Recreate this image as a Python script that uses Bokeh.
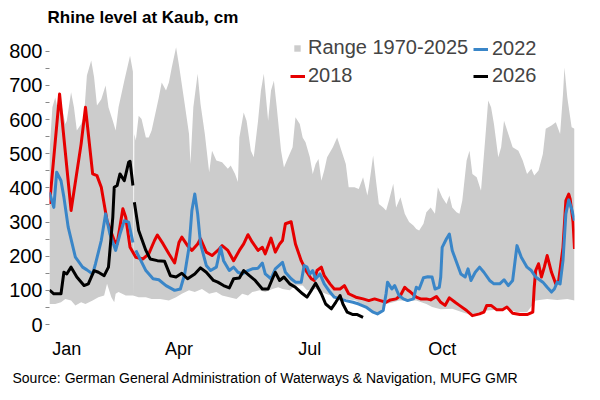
import numpy as np
from bokeh.plotting import figure
from bokeh.models import FixedTicker, Legend, LegendItem, Title, Range1d
from bokeh.embed import file_html
from bokeh.resources import INLINE

FONT = "Liberation Sans"

# day of year (0 = 1 Jan) and water level in cm
red_day = [0, 1, 7, 15, 22, 25, 30, 33, 36, 40, 45, 47, 51, 53, 56, 60, 65, 69, 73, 75, 79, 83, 87, 90,
           92, 96, 99, 103, 105, 109, 113, 118, 120, 124, 128, 132, 135, 138, 141, 145, 148, 150, 154,
           157, 160, 162, 164, 168, 171, 175, 179, 182, 184, 186, 189, 191, 195, 198, 202, 205, 208,
           213, 218, 222, 226, 230, 234, 237, 241, 244, 247, 249, 251, 255, 258, 262, 265, 269, 272,
           275, 278, 282, 285, 290, 294, 299, 302, 304, 307, 311, 315, 318, 322, 327, 332, 336, 337,
           338, 340, 342, 344, 346, 349, 352, 354, 357, 359, 361, 362, 364, 365]
red_cm = [353, 397, 675, 334, 529, 636, 441, 436, 402, 304, 246, 236, 339, 314, 226, 197, 192, 207, 246,
          262, 236, 207, 180, 240, 256, 231, 217, 236, 251, 212, 202, 221, 231, 217, 187, 217, 236, 263,
          241, 217, 226, 207, 253, 212, 236, 246, 295, 301, 236, 187, 153, 134, 129, 158, 168, 143, 119,
          104, 104, 114, 90, 80, 75, 70, 75, 70, 65, 72, 75, 85, 109, 101, 95, 80, 75, 75, 72, 82, 65,
          56, 78, 65, 56, 41, 26, 31, 36, 56, 56, 43, 43, 51, 33, 29, 29, 36, 109, 158, 178, 139, 168,
          202, 153, 119, 129, 226, 363, 382, 367, 300, 221]

blue_day = [0, 3, 5, 8, 10, 13, 18, 23, 26, 30, 32, 36, 39, 42, 46, 49, 52, 55, 58, 58.5, 60, 67, 72,
            76, 81, 87, 91, 94, 97, 99, 101, 103, 105, 109, 112, 116, 119, 121, 125, 128, 131, 134,
            138, 141, 145, 148, 150, 154, 157, 162, 164, 168, 171, 175, 177, 179, 181, 183, 185, 188,
            191, 195, 198, 202, 206, 211, 215, 220, 225, 228, 232, 234, 235, 238, 240, 243, 246, 249,
            253, 255, 257, 260, 263, 266, 268, 271, 272, 273, 276, 278, 280, 283, 286, 289, 291, 293,
            296, 299, 302, 306, 309, 313, 316, 319, 322, 325, 328, 332, 335, 338, 343, 346, 349, 351,
            353, 355, 357, 359, 361, 363, 365]
blue_cm = [387, 343, 446, 421, 373, 285, 197, 168, 160, 148, 178, 246, 324, 265, 217, 265, 304, 300,
           240, np.nan, 217, 158, 134, 131, 114, 100, 104, 148, 226, 334, 382, 324, 236, 173, 158, 168,
           226, 187, 158, 168, 153, 148, 158, 163, 165, 180, 148, 134, 163, 182, 153, 134, 124, 124,
           173, 168, 148, 158, 134, 148, 119, 95, 80, 75, 70, 65, 60, 51, 36, 31, 41, 90, 124, 104,
           114, 85, 75, 70, 75, 109, 104, 137, 140, 139, 104, 109, 139, 226, 251, 265, 217, 182, 148,
           139, 163, 129, 153, 168, 153, 129, 119, 119, 131, 114, 129, 231, 197, 168, 158, 139, 124,
           109, 95, 104, 124, 119, 187, 324, 365, 339, 304]

black_day = [0, 3, 8, 10, 12, 15, 19, 24, 27, 31, 34, 38, 41, 44, 45, 47, 49, 52, 55, 56, 58, 58.5, 59,
             62, 67, 70, 75, 80, 84, 88, 92, 96, 101, 105, 109, 114, 117, 121, 125, 128, 132, 135, 139,
             143, 148, 152, 155, 157, 160, 163, 167, 171, 176, 179, 182, 185, 189, 192, 196, 199, 202,
             204, 207, 211, 214, 218]
black_cm = [101, 90, 90, 153, 148, 168, 139, 114, 119, 158, 153, 143, 168, 314, 402, 407, 441, 421, 475,
            478, 407, np.nan, 358, 275, 217, 192, 187, 185, 143, 139, 150, 134, 148, 166, 153, 129, 124,
            114, 107, 134, 136, 158, 143, 129, 104, 104, 134, 153, 129, 139, 119, 109, 90, 80, 100, 121,
            90, 60, 46, 65, 85, 60, 36, 29, 29, 21]

range_hi_day = [0, 2, 4, 6, 8, 11, 12, 15, 17, 19, 22, 24, 26, 29, 31, 33, 36, 39, 41, 44, 46, 48, 52,
                56, 58, 58.5, 59, 60, 62, 64, 67, 69, 71, 74, 76, 78, 81, 83, 85, 88, 90, 94, 97, 98,
                100, 103, 105, 108, 111, 113, 116, 120, 124, 126, 129, 131, 132, 135, 137, 140, 142,
                145, 147, 149, 152, 154, 156, 158, 161, 163, 165, 169, 171, 174, 176, 178, 181, 183,
                185, 187, 189, 191, 193, 197, 200, 203, 206, 208, 212, 215, 218, 221, 222, 225, 227,
                229, 232, 234, 236, 239, 241, 244, 247, 250, 253, 255, 257, 260, 262, 265, 268, 270,
                273, 276, 278, 280, 283, 285, 287, 290, 292, 294, 297, 300, 303, 305, 307, 309, 312,
                314, 316, 319, 322, 326, 329, 332, 335, 337, 340, 343, 345, 349, 352, 355, 357, 358,
                360, 363, 365]
range_hi = [504, 636, 665, 626, 650, 587, 597, 680, 636, 568, 587, 611, 729, 773, 724, 641, 660, 700,
            636, 597, 568, 636, 714, 787, 740, 85, 558, 539, 611, 602, 548, 548, 568, 626, 665, 709,
            685, 709, 753, 812, 760, 646, 558, 470, 636, 734, 646, 558, 446, 509, 480, 475, 456, 466,
            441, 417, 548, 621, 597, 509, 490, 597, 685, 734, 597, 685, 714, 636, 509, 460, 480, 519,
            607, 587, 548, 534, 490, 441, 470, 485, 421, 451, 490, 519, 548, 509, 470, 402, 402, 397,
            431, 378, 402, 495, 421, 353, 343, 334, 363, 412, 343, 373, 324, 300, 290, 280, 275, 295,
            329, 343, 324, 402, 373, 353, 378, 343, 329, 324, 363, 480, 509, 441, 431, 392, 548, 656,
            636, 587, 490, 519, 597, 558, 519, 509, 480, 441, 456, 436, 451, 499, 573, 583, 592, 558,
            675, 753, 665, 578, 573]

range_lo_day = [0, 4, 8, 11, 15, 18, 22, 25, 30, 34, 38, 40, 43, 45, 46, 48, 53, 58, 62, 67, 71, 77, 83,
                88, 92, 97, 101, 106, 111, 116, 120, 125, 130, 134, 138, 141, 146, 150, 155, 159, 162,
                167, 171, 176, 179, 185, 192, 199, 206, 213, 220, 225, 228, 232, 234, 239, 243, 248,
                255, 262, 266, 272, 280, 287, 294, 299, 304, 311, 318, 325, 332, 338, 346, 353, 360, 365]
range_lo = [60, 60, 65, 75, 70, 56, 65, 60, 70, 80, 85, 119, 80, 65, 90, 95, 85, 85, 80, 80, 75, 75, 70,
            80, 90, 100, 95, 104, 90, 95, 85, 80, 75, 90, 85, 95, 100, 95, 104, 109, 104, 100, 114, 114,
            100, 104, 90, 80, 75, 70, 51, 36, 31, 41, 60, 65, 70, 70, 70, 60, 51, 45, 46, 36, 26, 31, 41,
            43, 46, 36, 36, 70, 75, 72, 75, 70]

month_tick_day = [12, 90, 181, 273]
month_label = ["Jan", "Apr", "Jul", "Oct"]

p = figure(
    width=600,
    height=400,
    output_backend="svg",
    toolbar_location=None,
    x_range=Range1d(0, 365),
    y_range=Range1d(0, 861),
    min_border_left=49,
    min_border_right=26,
    min_border_top=30,
    min_border_bottom=76,
)

p.title.text = "Rhine level at Kaub, cm"
p.title.text_font = FONT
p.title.text_font_size = "17px"
p.title.text_font_style = "bold"
p.title.text_color = "#000000"
p.title.align = "left"
p.title.offset = -2
p.title.standoff = 7

p.outline_line_color = None
p.xgrid.visible = False
p.ygrid.visible = False

# range band as a closed polygon: upper edge, then lower edge backwards
band_x = range_hi_day + range_lo_day[::-1]
band_y = range_hi + range_lo[::-1]
r_range = p.patch(band_x, band_y, fill_color="#CCCCCC", line_color=None)

r_red = p.line(red_day, red_cm, line_color="#E60000", line_width=3, line_join="round")
r_blue = p.line(blue_day, blue_cm, line_color="#3A86C8", line_width=3, line_join="round")
r_black = p.line(black_day, black_cm, line_color="#000000", line_width=3, line_join="round")

p.yaxis.ticker = FixedTicker(ticks=list(range(0, 801, 100)), minor_ticks=list(range(50, 801, 100)))
p.yaxis.axis_line_color = None
p.yaxis.major_tick_line_color = "#888888"
p.yaxis.minor_tick_line_color = "#888888"
p.yaxis.major_tick_in = 0
p.yaxis.major_tick_out = 4
p.yaxis.minor_tick_in = 0
p.yaxis.minor_tick_out = 4
p.yaxis.major_label_standoff = 3
p.yaxis.major_label_text_font = FONT
p.yaxis.major_label_text_font_size = "20px"
p.yaxis.major_label_text_color = "#000000"

p.xaxis.ticker = FixedTicker(ticks=month_tick_day)
p.xaxis.major_label_overrides = {d: m for d, m in zip(month_tick_day, month_label)}
p.xaxis.axis_line_color = None
p.xaxis.major_tick_line_color = None
p.xaxis.minor_tick_line_color = None
p.xaxis.major_tick_out = 0
p.xaxis.minor_tick_out = 0
p.xaxis.major_label_standoff = 14
p.xaxis.major_label_text_font = FONT
p.xaxis.major_label_text_font_size = "18px"
p.xaxis.major_label_text_color = "#000000"

legend_style = dict(
    label_text_font=FONT,
    label_text_font_size="20px",
    border_line_color=None,
    background_fill_alpha=0,
    padding=0,
    margin=0,
    spacing=4,
    label_height=22,
)

# small grey square for the range
legend_range = Legend(
    items=[LegendItem(label="Range 1970-2025", renderers=[r_range])],
    location=(244, 265),
    glyph_width=8,
    glyph_height=8,
    label_standoff=7,
    **legend_style,
)
legend_2018 = Legend(
    items=[LegendItem(label="2018", renderers=[r_red])],
    location=(241, 237),
    glyph_width=15,
    glyph_height=22,
    label_standoff=3,
    **legend_style,
)
legend_right = Legend(
    items=[
        LegendItem(label="2022", renderers=[r_blue]),
        LegendItem(label="2026", renderers=[r_black]),
    ],
    location=(424, 237),
    glyph_width=15,
    glyph_height=22,
    label_standoff=4,
    **legend_style,
)
p.add_layout(legend_range)
p.add_layout(legend_2018)
p.add_layout(legend_right)

source = Title(
    text="Source: German General Administration of Waterways & Navigation, MUFG GMR",
    align="left",
    text_font=FONT,
    text_font_size="14px",
    text_font_style="normal",
    text_color="#000000",
    offset=-37,
    standoff=13,
)
p.add_layout(source, "below")

open("out.html", "w").write(file_html(p, INLINE))
